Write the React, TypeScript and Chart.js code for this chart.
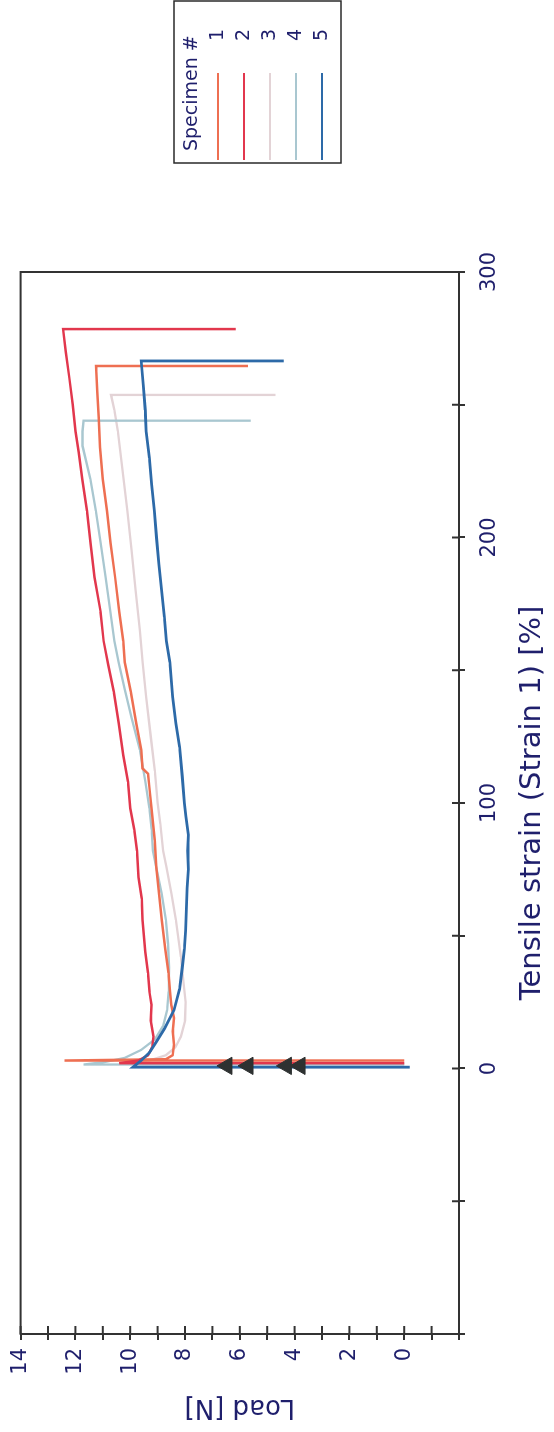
import React, { useEffect, useRef } from 'react';
import { Chart, registerables } from 'chart.js';

Chart.register(...registerables);

// ---------- data (strain in %, load in N) ----------
const SPECIMEN_LABELS = ['1', '2', '3', '4', '5'];
const SPECIMEN_COLORS = ['#ee6f52', '#e2374d', '#e3d3d6', '#a9c7d0', '#2d6aa8'];

const S1_STRAIN = [3, 3, 3.5, 5, 9, 14, 19, 24, 29, 36, 45, 56, 66, 76, 86, 98, 106, 111, 113, 120, 130, 142, 153, 161, 172, 185, 198, 210, 222, 234, 245, 255, 264.6, 264.6];
const S1_LOAD = [0, 12.4, 8.7, 8.45, 8.4, 8.45, 8.4, 8.5, 8.55, 8.6, 8.72, 8.85, 8.95, 9.05, 9.1, 9.22, 9.3, 9.35, 9.55, 9.6, 9.78, 9.98, 10.2, 10.25, 10.4, 10.55, 10.72, 10.85, 11.0, 11.1, 11.15, 11.2, 11.25, 5.7];

const S2_STRAIN = [2, 2, 3, 5, 8, 12, 18, 24, 29, 36, 44, 56, 64, 72, 82, 90, 98, 108, 118, 130, 142, 152, 161, 172, 185, 198, 210, 222, 232, 240, 250, 260, 270, 278.5, 278.5];
const S2_LOAD = [0, 10.4, 9.7, 9.35, 9.2, 9.15, 9.25, 9.22, 9.3, 9.35, 9.45, 9.55, 9.58, 9.7, 9.75, 9.85, 10.0, 10.08, 10.25, 10.42, 10.6, 10.8, 10.97, 11.08, 11.3, 11.45, 11.58, 11.75, 11.88, 12.0, 12.1, 12.22, 12.35, 12.45, 6.15];

const S3_STRAIN = [2, 2, 3, 5, 8, 12, 18, 25, 32, 42, 56, 66, 76, 82, 92, 100, 112, 125, 140, 153, 165, 180, 195, 210, 225, 240, 248, 253.7, 253.7];
const S3_LOAD = [0, 10.3, 9.3, 8.7, 8.35, 8.15, 8.0, 7.98, 8.05, 8.15, 8.33, 8.5, 8.68, 8.8, 8.9, 9.0, 9.1, 9.25, 9.42, 9.55, 9.65, 9.8, 9.95, 10.1, 10.28, 10.45, 10.58, 10.7, 4.7];

const S4_STRAIN = [1.5, 1.5, 2.5, 4, 7, 11, 16, 22, 29, 38, 47, 56, 66, 76, 82, 90, 98, 108, 120, 132, 143, 153, 161, 172, 185, 198, 210, 222, 234.5, 240, 244, 244];
const S4_LOAD = [0, 11.7, 10.9, 10.2, 9.6, 9.1, 8.8, 8.65, 8.6, 8.58, 8.62, 8.7, 8.85, 9.05, 9.17, 9.22, 9.3, 9.45, 9.65, 9.95, 10.2, 10.42, 10.58, 10.72, 10.9, 11.08, 11.25, 11.45, 11.74, 11.74, 11.7, 5.6];

const S5_STRAIN = [0.5, 0.5, 3, 6, 10, 15, 22, 30, 38, 45, 52, 60, 68, 75, 82, 88, 95, 100, 110, 121, 130, 140, 153, 161, 170, 180, 190, 200, 210, 220, 230, 240, 248, 257, 266.5, 266.5];
const S5_LOAD = [-0.2, 9.9, 9.6, 9.3, 9.05, 8.75, 8.4, 8.2, 8.1, 8.02, 7.98, 7.95, 7.92, 7.88, 7.9, 7.88, 7.97, 8.02, 8.1, 8.2, 8.33, 8.45, 8.55, 8.68, 8.75, 8.85, 8.95, 9.04, 9.12, 9.22, 9.3, 9.42, 9.45, 9.52, 9.6, 4.4];

const MARKER_STRAIN = [1, 1, 1, 1];
const MARKER_LOAD = [6.47, 5.7, 4.3, 3.8];

const STRAIN_TICK_LABELS = [0, 100, 200, 300];
const LOAD_TICK_LABELS = [0, 2, 4, 6, 8, 10, 12, 14];

const X_TITLE = 'Tensile strain (Strain 1) [%]';
const Y_TITLE = 'Load [N]';
const LEGEND_TITLE = 'Specimen #';

// ---------- styles ----------
const FONT = '"DejaVu Sans", Verdana, sans-serif';
const TEXT_COLOR = '#1f1f6c';
const AXIS_COLOR = '#333333';
const W = 1432;
const H = 554;

const SERIES_STRAIN = [S1_STRAIN, S2_STRAIN, S3_STRAIN, S4_STRAIN, S5_STRAIN];
const SERIES_LOAD = [S1_LOAD, S2_LOAD, S3_LOAD, S4_LOAD, S5_LOAD];
const SERIES_WIDTH = [2.5, 2.5, 2.3, 2.3, 2.8];
const SERIES_ORDER = [3, 2, 5, 4, 1];

const toPoints = (xs: number[], ys: number[]) => xs.map((x, i) => ({ x, y: ys[i] }));

const framePlugin = {
  id: 'frame',
  beforeDatasetsDraw(chart: any) {
    const { ctx, chartArea } = chart;
    const { left, right, top, bottom } = chartArea;
    ctx.save();
    ctx.strokeStyle = AXIS_COLOR;
    ctx.lineWidth = 2;
    ctx.strokeRect(left, top, right - left, bottom - top);
    // inside tick marks
    const xs = chart.scales.x;
    xs.ticks.forEach((t: any) => {
      const px = xs.getPixelForValue(t.value);
      ctx.beginPath();
      ctx.moveTo(px, bottom);
      ctx.lineTo(px, bottom - 7);
      ctx.stroke();
    });
    const ys = chart.scales.y;
    ys.ticks.forEach((t: any) => {
      const py = ys.getPixelForValue(t.value);
      ctx.beginPath();
      ctx.moveTo(left, py);
      ctx.lineTo(left + 8, py);
      ctx.stroke();
    });
    ctx.restore();
  },
};

const legendPlugin = {
  id: 'specimenLegend',
  afterDraw(chart: any) {
    const { ctx } = chart;
    const bx = 1269;
    const by = 174;
    const bw = 162;
    const bh = 167;
    ctx.save();
    ctx.strokeStyle = '#2a2a2a';
    ctx.lineWidth = 1.5;
    ctx.strokeRect(bx, by, bw, bh);
    ctx.fillStyle = TEXT_COLOR;
    ctx.font = `19px ${FONT}`;
    ctx.textAlign = 'left';
    ctx.textBaseline = 'middle';
    ctx.fillText(LEGEND_TITLE, bx + 12, by + 18);
    SPECIMEN_LABELS.forEach((lab, i) => {
      const y = by + 44 + i * 26;
      ctx.strokeStyle = SPECIMEN_COLORS[i];
      ctx.lineWidth = 2;
      ctx.beginPath();
      ctx.moveTo(bx + 3, y);
      ctx.lineTo(bx + 90, y);
      ctx.stroke();
      ctx.fillStyle = TEXT_COLOR;
      ctx.fillText(lab, bx + 122, y);
    });
    ctx.restore();
  },
};

export default function App() {
  const ref = useRef<HTMLCanvasElement | null>(null);

  useEffect(() => {
    if (!ref.current) return;
    const datasets: any[] = [
      {
        label: 'markers',
        data: toPoints(MARKER_STRAIN, MARKER_LOAD),
        showLine: false,
        pointStyle: 'triangle',
        pointRadius: 10,
        backgroundColor: '#2e3131',
        borderColor: '#2e3131',
        borderWidth: 1,
        order: 0,
      },
      ...SPECIMEN_LABELS.map((lab, i) => ({
        label: lab,
        data: toPoints(SERIES_STRAIN[i], SERIES_LOAD[i]),
        showLine: true,
        pointRadius: 0,
        borderColor: SPECIMEN_COLORS[i],
        backgroundColor: SPECIMEN_COLORS[i],
        borderWidth: SERIES_WIDTH[i],
        tension: 0,
        order: SERIES_ORDER[i],
      })),
    ];

    const chart = new Chart(ref.current, {
      type: 'scatter',
      data: { datasets },
      options: {
        responsive: false,
        maintainAspectRatio: false,
        animation: false,
        devicePixelRatio: 1,
        layout: { padding: { top: 19, right: 272, bottom: 0, left: 0 } },
        plugins: {
          legend: { display: false },
          tooltip: { enabled: false },
        },
        scales: {
          x: {
            type: 'linear',
            position: 'bottom',
            min: -100,
            max: 300,
            afterFit: (s: any) => {
              s.height = 95;
            },
            ticks: {
              stepSize: 50,
              autoSkip: false,
              maxRotation: 0,
              minRotation: 0,
              padding: 12,
              color: TEXT_COLOR,
              font: { family: FONT, size: 21 },
              callback: (v: any) => (STRAIN_TICK_LABELS.includes(Number(v)) ? String(v) : ''),
            },
            grid: {
              drawOnChartArea: false,
              drawTicks: true,
              tickLength: 6,
              color: AXIS_COLOR,
              lineWidth: 2,
            },
            border: { display: true, color: AXIS_COLOR, width: 2 },
            title: {
              display: true,
              text: X_TITLE,
              color: TEXT_COLOR,
              font: { family: FONT, size: 29 },
              padding: { top: 0, bottom: 4 },
            },
          },
          y: {
            type: 'linear',
            position: 'left',
            min: -2,
            max: 14,
            afterFit: (s: any) => {
              s.width = 98;
            },
            ticks: {
              stepSize: 1,
              autoSkip: false,
              padding: 8,
              color: TEXT_COLOR,
              font: { family: FONT, size: 21 },
              callback: (v: any) => (LOAD_TICK_LABELS.includes(Number(v)) ? String(v) : ''),
            },
            grid: {
              drawOnChartArea: false,
              drawTicks: true,
              tickLength: 6,
              color: AXIS_COLOR,
              lineWidth: 2,
            },
            border: { display: true, color: AXIS_COLOR, width: 2 },
            title: {
              display: true,
              text: Y_TITLE,
              color: TEXT_COLOR,
              font: { family: FONT, size: 26 },
              padding: { top: 10, bottom: 0 },
            },
          },
        },
      } as any,
      plugins: [framePlugin, legendPlugin],
    });
    return () => chart.destroy();
  }, []);

  return (
    <div
      style={{
        position: 'absolute',
        left: 0,
        top: 0,
        width: H,
        height: W,
        overflow: 'hidden',
        background: '#ffffff',
      }}
    >
      <div
        style={{
          position: 'absolute',
          left: 0,
          top: 0,
          width: W,
          height: H,
          transformOrigin: '0 0',
          transform: `translate(0px, ${W}px) rotate(-90deg)`,
        }}
      >
        <canvas ref={ref} width={W} height={H} style={{ display: 'block', width: W, height: H }} />
      </div>
    </div>
  );
}
